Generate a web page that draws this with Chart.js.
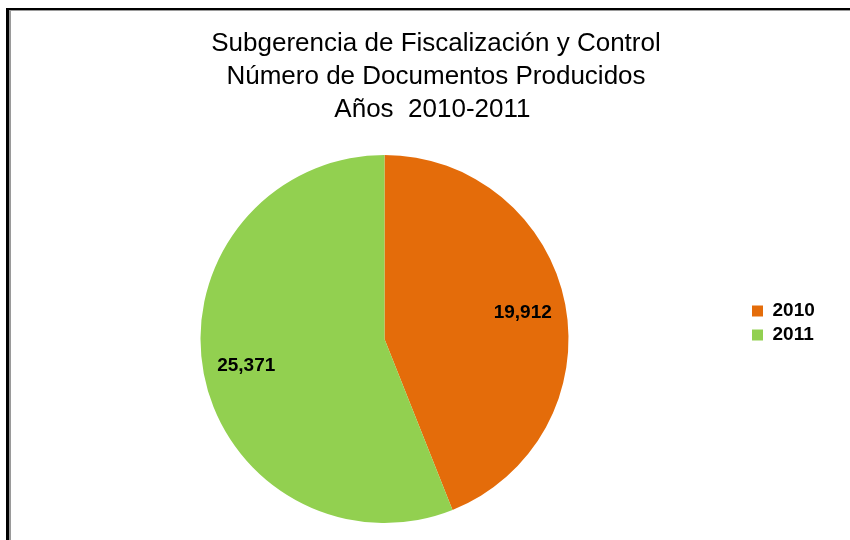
<!DOCTYPE html>
<html>
<head>
<meta charset="utf-8">
<script src="https://cdn.jsdelivr.net/npm/chart.js@4.4.1/dist/chart.umd.min.js"></script>
<style>
  body { margin: 0; background: #fff; }
  #wrap { position: relative; width: 850px; height: 540px; overflow: hidden; }
  /* frame of the original chart, runs off the right and bottom edge */
  #frame {
    position: absolute; left: 6px; top: 8px; width: 900px; height: 600px;
    border-left: 3px solid #000; border-top: 2px solid #000;
    box-shadow: inset 2px 1px 0 #9a9a9a;
  }
  #chart { position: absolute; left: 0; top: 0; }
</style>
</head>
<body>
<div id="wrap">
  <div id="frame"></div>
  <canvas id="chart" width="850" height="540"></canvas>
</div>
<script>
var titleLines = ['Subgerencia de Fiscalización y Control', 'Número de Documentos Producidos', 'Años  2010-2011 '];
var years = ['2010', '2011'];
var documents = [19912, 25371];
var sliceColors = ['#E46C0A', '#92D050'];

var legendWidth = 103;
var legendShift = 16;

// legend box gets a fixed width and sits a bit higher than the pie centre
var legendFix = {
    id: 'legendFix',
    afterInit: function(chart) {
        var legend = chart.legend;
        var fit = legend.fit;
        legend.fit = function() {
            fit.call(this);
            this.width = legendWidth;
        };
    },
    afterLayout: function(chart) {
        chart.legend.top -= legendShift;
        chart.legend.bottom -= legendShift;
    }
};

// value labels inside the slices
var valueLabels = {
    id: 'valueLabels',
    afterDatasetsDraw: function(chart) {
        var ctx = chart.ctx;
        var meta = chart.getDatasetMeta(0);
        ctx.save();
        ctx.font = "bold 19px 'Liberation Sans'";
        ctx.fillStyle = '#000';
        ctx.textAlign = 'center';
        ctx.textBaseline = 'middle';
        meta.data.forEach(function(arc, i) {
            var p = arc.getProps(['x', 'y', 'startAngle', 'endAngle', 'outerRadius'], true);
            var mid = (p.startAngle + p.endAngle) / 2;
            var r = p.outerRadius * 0.765;
            var text = chart.data.datasets[0].data[i].toLocaleString('en-US');
            ctx.fillText(text, p.x + Math.cos(mid) * r, p.y + Math.sin(mid) * r);
        });
        ctx.restore();
    }
};

new Chart(document.getElementById('chart'), {
    type: 'pie',
    data: {
        labels: years,
        datasets: [{
            data: documents,
            backgroundColor: sliceColors,
            borderWidth: 0
        }]
    },
    options: {
        responsive: false,
        animation: false,
        devicePixelRatio: 1,
        layout: {
            padding: {left: 22, right: 0, top: 27.5, bottom: 17}
        },
        plugins: {
            title: {
                display: true,
                text: titleLines,
                color: '#000',
                font: {family: "'Liberation Sans'", size: 26, weight: 'normal', lineHeight: '33px'},
                padding: {top: 0, bottom: 28.5}
            },
            legend: {
                position: 'right',
                fullSize: false,
                labels: {
                    color: '#000',
                    font: {family: "'Liberation Sans'", size: 19, weight: 'bold'},
                    boxWidth: 11,
                    boxHeight: 11,
                    padding: 5
                }
            },
            tooltip: {enabled: false}
        }
    },
    plugins: [legendFix, valueLabels]
});
</script>
</body>
</html>
